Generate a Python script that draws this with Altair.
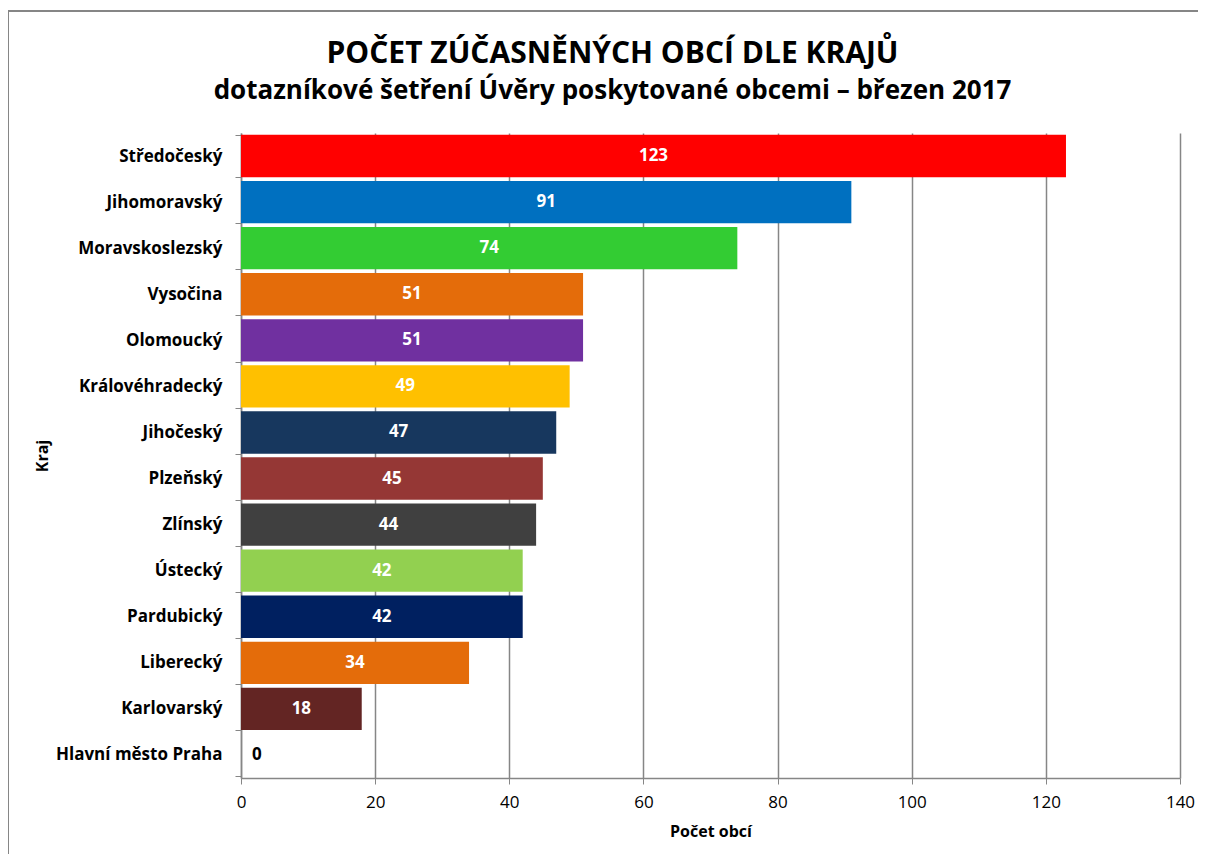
import altair as alt
import pandas as pd

kraje = ["Středočeský", "Jihomoravský", "Moravskoslezský", "Vysočina", "Olomoucký",
         "Královéhradecký", "Jihočeský", "Plzeňský", "Zlínský", "Ústecký",
         "Pardubický", "Liberecký", "Karlovarský", "Hlavní město Praha"]
pocty = [123, 91, 74, 51, 51, 49, 47, 45, 44, 42, 42, 34, 18, 0]
barvy = ["#FF0000", "#0070C0", "#33CC33", "#E46C0A", "#7030A0", "#FFC000", "#17375E",
         "#953735", "#404040", "#92D050", "#002060", "#E46C0A", "#632523", "#FFFFFF"]
x_ticks = [0, 20, 40, 60, 80, 100, 120, 140]

df = pd.DataFrame({"kraj": kraje, "pocet": pocty})
FONT = "Open Sans"
GRAY = "#868686"

base = alt.Chart(df)

y_enc = alt.Y("kraj:N", sort=kraje,
              scale=alt.Scale(paddingInner=0.08, paddingOuter=0.04),
              axis=alt.Axis(title="Kraj", titleFont=FONT, titleFontSize=16, titleFontWeight="bold",
                            titleColor="black", titlePadding=5,
                            labelFont=FONT, labelFontSize=17, labelFontWeight="bold",
                            labelColor="black", labelPadding=13, tickBand="extent",
                            tickSize=6, tickColor=GRAY, domainColor=GRAY, domainWidth=1.5,
                            grid=False, labelLimit=300))

bars = base.mark_bar().encode(
    x=alt.X("pocet:Q", scale=alt.Scale(domain=[0, 140], nice=False),
            axis=alt.Axis(values=x_ticks, title="Počet obcí", titleFont=FONT, titleFontSize=16,
                          titleFontWeight="bold", titleColor="black", titlePadding=13,
                          labelFont=FONT, labelFontSize=17, labelColor="black", labelPadding=10,
                          labelFlush=False,
                          grid=True, gridColor=GRAY, gridWidth=1.5, tickColor=GRAY, tickSize=6,
                          domainColor=GRAY, domainWidth=1.5)),
    y=y_enc,
    color=alt.Color("kraj:N", scale=alt.Scale(domain=kraje, range=barvy), legend=None),
)

labels = base.transform_filter("datum.pocet > 0").transform_calculate(
    stred="datum.pocet / 2"
).mark_text(font=FONT, fontSize=17, fontWeight="bold", color="white",
            align="center", baseline="middle").encode(
    x=alt.X("stred:Q"), y=alt.Y("kraj:N", sort=kraje), text="pocet:Q")

zero = base.transform_filter("datum.pocet == 0").mark_text(
    font=FONT, fontSize=17, fontWeight="bold", color="black", align="left",
    baseline="middle", dx=11).encode(
    x=alt.X("pocet:Q"), y=alt.Y("kraj:N", sort=kraje), text="pocet:Q")

border = alt.Chart(pd.DataFrame({"b": [0]})).mark_rect(
    fill=None, stroke=GRAY, strokeWidth=2, clip=False).encode(
    x=alt.value(-233), x2=alt.value(1100), y=alt.value(-122), y2=alt.value(900))

chart = alt.layer(border, bars, labels, zero).properties(
    width=939, height=645,
    autosize=alt.AutoSizeParams(type="none"),
    padding={"left": 233, "top": 125, "right": 18, "bottom": 76},
    title=alt.TitleParams(
        text="POČET ZÚČASNĚNÝCH OBCÍ DLE KRAJŮ",
        subtitle="dotazníkové šetření Úvěry poskytované obcemi – březen 2017",
        font=FONT, fontSize=30, fontWeight="bold", color="black",
        subtitleFont=FONT, subtitleFontSize=26, subtitleFontWeight="bold",
        subtitleColor="black", subtitlePadding=9, anchor="middle", dx=-98, offset=-94),
).configure_view(stroke=None)

chart.save("out.html", embed_options={"renderer": "svg", "actions": False})
